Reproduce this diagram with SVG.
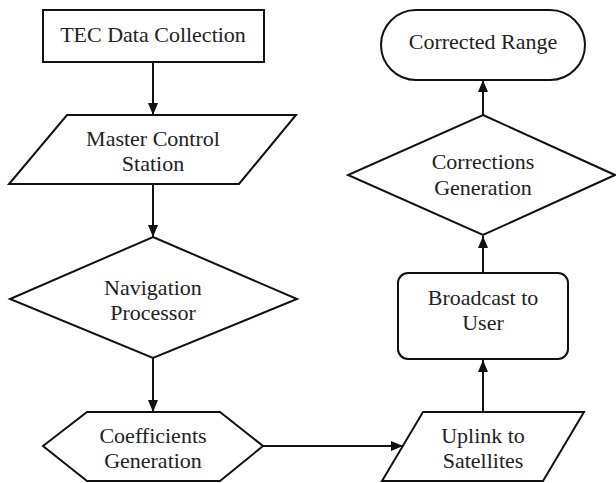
<svg xmlns="http://www.w3.org/2000/svg" width="616" height="483" viewBox="0 0 616 483">
<style>
.s{fill:#fff;stroke:#111;stroke-width:2}
.t{font-family:"Liberation Serif","Times New Roman",serif;font-size:22px;fill:#222;text-anchor:middle}
.c{fill:none;stroke:#111;stroke-width:2}
</style>
<defs>
<marker id="a" viewBox="0 0 12 10" refX="12" refY="5" markerWidth="12" markerHeight="10" markerUnits="userSpaceOnUse" orient="auto">
<path d="M0,0L12,5L0,10z" fill="#111"/>
</marker>
</defs>
<rect width="616" height="483" fill="#fff"/>
<g id="connectors">
<line class="c" x1="153" y1="62" x2="153" y2="115" marker-end="url(#a)"/>
<line class="c" x1="153" y1="184" x2="153" y2="237" marker-end="url(#a)"/>
<line class="c" x1="153" y1="358" x2="153" y2="412" marker-end="url(#a)"/>
<line class="c" x1="263" y1="446" x2="403" y2="446" marker-end="url(#a)"/>
<line class="c" x1="483" y1="412" x2="483" y2="360" marker-end="url(#a)"/>
<line class="c" x1="483" y1="273" x2="483" y2="236" marker-end="url(#a)"/>
<line class="c" x1="483" y1="115" x2="483" y2="80" marker-end="url(#a)"/>
</g>
<g id="tec">
<rect class="s" x="43" y="10" width="221" height="52"/>
<text class="t" x="153" y="42">TEC Data Collection</text>
</g>
<g id="mcs">
<polygon class="s" points="67,115 296,115 239,184 9,184"/>
<text class="t" x="153" y="146">Master Control</text>
<text class="t" x="153" y="171">Station</text>
</g>
<g id="nav">
<polygon class="s" points="153,237 297,299 153,358 10,299"/>
<text class="t" x="153" y="295">Navigation</text>
<text class="t" x="153" y="320">Processor</text>
</g>
<g id="coef">
<polygon class="s" points="87,412 220,412 263,446 220,481 87,481 43,446"/>
<text class="t" x="153" y="443">Coefficients</text>
<text class="t" x="153" y="468">Generation</text>
</g>
<g id="uplink">
<polygon class="s" points="423,412 584,412 543,481 382,481"/>
<text class="t" x="483" y="443">Uplink to</text>
<text class="t" x="483" y="468">Satellites</text>
</g>
<g id="broadcast">
<rect class="s" x="398" y="273" width="170" height="86" rx="10"/>
<text class="t" x="483" y="305">Broadcast to</text>
<text class="t" x="483" y="330">User</text>
</g>
<g id="corrections">
<polygon class="s" points="483,115 615,175 483,235 348,175"/>
<text class="t" x="483" y="169">Corrections</text>
<text class="t" x="483" y="195">Generation</text>
</g>
<g id="range">
<rect class="s" x="381" y="10" width="204" height="70" rx="35"/>
<text class="t" x="483" y="49">Corrected Range</text>
</g>
</svg>
